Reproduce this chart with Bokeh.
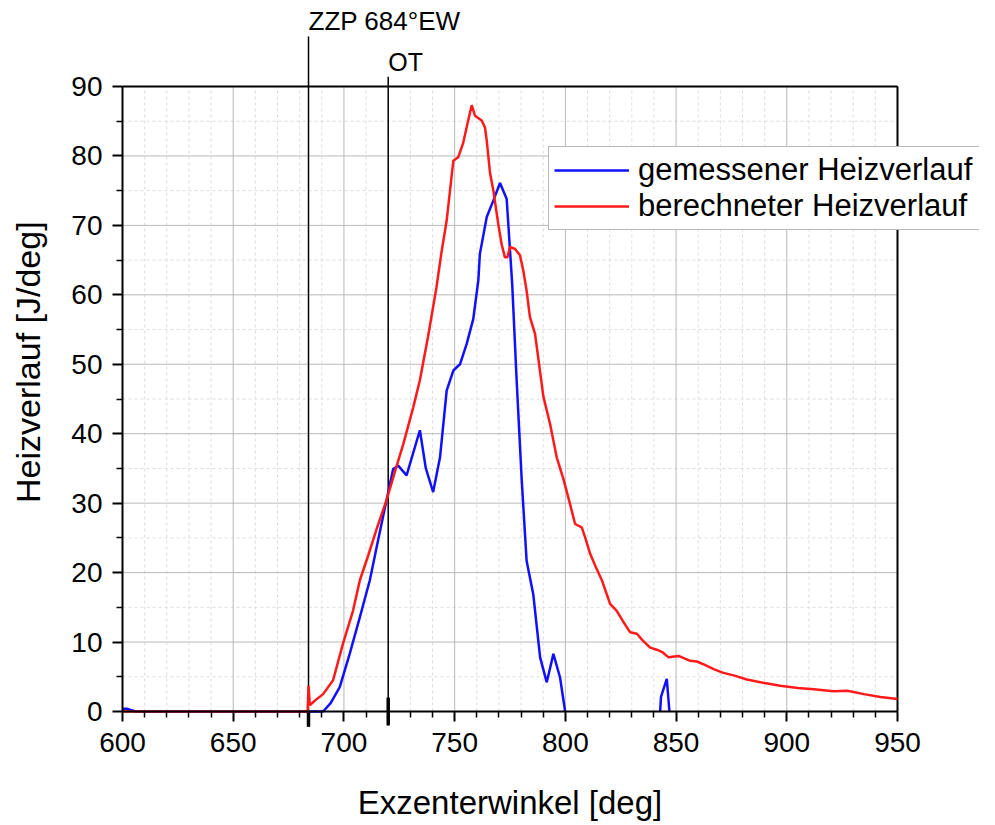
import math
import numpy as np
from bokeh.plotting import figure
from bokeh.models import Range1d, FixedTicker, Legend, LegendItem, Label
from bokeh.embed import file_html
from bokeh.resources import INLINE

NAN = float("nan")

# ---- data -------------------------------------------------------------
X_MIN, X_MAX = 600, 950
Y_MIN, Y_MAX = 0, 90
x_ticks = [600, 650, 700, 750, 800, 850, 900, 950]
x_minor = [610, 620, 630, 640, 660, 670, 680, 690, 710, 720, 730, 740, 760, 770, 780, 790,
           810, 820, 830, 840, 860, 870, 880, 890, 910, 920, 930, 940]
y_ticks = [0, 10, 20, 30, 40, 50, 60, 70, 80, 90]
y_minor = [5, 15, 25, 35, 45, 55, 65, 75, 85]

ZZP = 684   # Zündzeitpunkt [°EW]
OT = 720    # oberer Totpunkt

# gemessener Heizverlauf (blue)
meas_x = [600, 602, 604, 606, 650, 690.6, 694, 698.1, 702.6, 707.2, 711.7, 715, 719.2, 722.2,
          724.5, 728.3, 734.3, 737, 740.3, 743.4, 746.4, 749.4, 752.4, 755.4, 758.4, 760.7,
          761.4, 764.5, 767.5, 770.5, 773.5, 776, 778, 780.3, 782.5, 785.5, 788.6, 791.6,
          794.6, 797.6, 799.9, NAN, 842.8, 843.2, 845.8, 847]
meas_y = [0.4, 0.4, 0.2, 0, 0, 0, 1.2, 3.5, 8.3, 13.6, 18.9, 24.0, 30.4, 34.9,
          35.4, 34.0, 40.5, 35.0, 31.6, 36.6, 46.2, 49.1, 50.0, 52.9, 56.5, 62.1,
          65.9, 71.2, 73.6, 76.1, 73.8, 61.5, 47.7, 33.3, 21.7, 16.9, 7.8, 4.2,
          8.3, 4.9, 0, NAN, 0, 2.1, 4.7, 0]

# berechneter Heizverlauf (red)
calc_x = [600, 683.6, 684, 684.6, 687, 690.6, 695.1, 699.6, 704.1, 707.2, 711, 715, 719.2, 723,
          726.8, 731.3, 734.3, 738, 741.8, 744, 746.4, 749.4, 751.6, 753.8, 755.4, 757.7,
          759.2, 762.2, 763.7, 764.5, 766, 767.5, 769.7, 771.2, 772.7, 773.8, 775, 777.3,
          779.5, 781, 782.5, 784, 786.3, 790.1, 793.1, 796.1, 799.1, 802, 804.4, 807.4,
          809, 811.2, 813.5, 816.5, 820.2, 823.2, 826, 829.3, 832.3, 835, 838.3, 841.3,
          844, 846.6, 851.1, 856.4, 859.4, 863, 867, 871, 876, 882, 890, 897, 905, 912.2,
          921.2, 927.3, 934.8, 942.3, 950]
calc_y = [0, 0, 3.7, 0.9, 1.6, 2.5, 4.5, 9.8, 14.5, 18.9, 22.5, 26.5, 30.4, 34.5,
          38.5, 43.8, 47.7, 54.0, 61.1, 66.0, 70.7, 79.3, 79.8, 81.8, 84.1, 87.3,
          85.8, 85.1, 84.1, 82.2, 77.5, 75.0, 70.2, 67.3, 65.4, 65.4, 66.9, 66.6,
          65.7, 63.5, 60.6, 56.8, 54.4, 45.3, 41.4, 36.6, 33.5, 30.0, 27.0, 26.5,
          25.0, 22.7, 21.0, 18.9, 15.5, 14.5, 13.0, 11.4, 11.2, 10.2, 9.2, 8.9,
          8.5, 7.8, 8.0, 7.3, 7.2, 6.7, 6.1, 5.6, 5.2, 4.6, 4.1, 3.7, 3.4, 3.2,
          2.9, 3.0, 2.5, 2.1, 1.8]

FONT = "Liberation Sans"
BLUE = "#1010ff"
RED = "#ff1a1a"

# ---- layout: the frame fills the whole canvas so that markers, labels,
# axes and the legend may reach outside the axis box, as in the original --
PX_X = 775 / (X_MAX - X_MIN)     # pixels per degree
PX_Y = 625 / (Y_MAX - Y_MIN)     # pixels per J/deg
LEFT_PX = 122                    # canvas px left of the box
FW, FH = 979, 825
X_LO = X_MIN - LEFT_PX / PX_X
X_HI = X_LO + FW / PX_X
TOP_V = Y_MAX + 86 / PX_Y
BOT_V = TOP_V - FH / PX_Y

p = figure(frame_width=FW, frame_height=FH, output_backend="svg", toolbar_location=None,
           x_range=Range1d(X_LO, X_HI), y_range=Range1d(BOT_V, TOP_V), title=None,
           min_border_left=0, min_border_right=0, min_border_top=0, min_border_bottom=0)

p.outline_line_color = None
p.grid.visible = False

# grid (bounded to the axis box)
p.segment(x0=x_minor, y0=[Y_MIN] * len(x_minor), x1=x_minor, y1=[Y_MAX] * len(x_minor),
          line_color="#dcdcdc", line_dash="3 3", line_width=1)
p.segment(x0=[X_MIN] * len(y_minor), y0=y_minor, x1=[X_MAX] * len(y_minor), y1=y_minor,
          line_color="#dcdcdc", line_dash="3 3", line_width=1)
p.segment(x0=x_ticks, y0=[Y_MIN] * len(x_ticks), x1=x_ticks, y1=[Y_MAX] * len(x_ticks),
          line_color="#b9b9b9", line_width=1)
p.segment(x0=[X_MIN] * len(y_ticks), y0=y_ticks, x1=[X_MAX] * len(y_ticks), y1=y_ticks,
          line_color="#b9b9b9", line_width=1)
# top and right edge of the box
p.segment(x0=[X_MIN, X_MAX], y0=[Y_MAX, Y_MIN], x1=[X_MAX, X_MAX], y1=[Y_MAX, Y_MAX],
          line_color="black", line_width=2)

p.xaxis.ticker = FixedTicker(ticks=x_ticks, minor_ticks=x_minor)
p.yaxis.ticker = FixedTicker(ticks=y_ticks, minor_ticks=y_minor)
p.xaxis.fixed_location = Y_MIN
p.yaxis.fixed_location = X_MIN
p.xaxis.bounds = (X_MIN, X_MAX)
p.yaxis.bounds = (Y_MIN, Y_MAX)

for ax in (p.xaxis, p.yaxis):
    ax.axis_line_color = "black"
    ax.axis_line_width = 2
    ax.major_tick_line_color = "black"
    ax.major_tick_line_width = 2
    ax.minor_tick_line_color = "black"
    ax.minor_tick_line_width = 1.5
    ax.major_tick_in = 0
    ax.major_tick_out = 10
    ax.minor_tick_in = 0
    ax.minor_tick_out = 6
    ax.major_label_text_font = FONT
    ax.major_label_text_font_size = "28px"
    ax.major_label_text_color = "black"
    ax.axis_label_text_font = FONT
    ax.axis_label_text_font_size = "33px"
    ax.axis_label_text_font_style = "normal"
    ax.axis_label_text_color = "black"

p.xaxis.axis_label = "Exzenterwinkel [deg]"
p.xaxis.major_label_standoff = 11
p.xaxis.axis_label_standoff = 29
p.yaxis.major_label_standoff = 10

# y-axis title, placed like in the original (above the box centre)
p.add_layout(Label(x=X_MIN - 95 / PX_X, y=50.3, text="Heizverlauf [J/deg]", angle=math.pi / 2,
                   text_font=FONT, text_font_size="34px", text_color="black",
                   text_align="center", text_baseline="middle"))

# ZZP and OT markers
p.segment(x0=[ZZP, OT], y0=[-2.2, -2.0], x1=[ZZP, OT], y1=[97.2, 91.4],
          line_color="black", line_width=1.5)
p.segment(x0=[ZZP, OT], y0=[-2.2, -2.0], x1=[ZZP, OT], y1=[0, 2.0],
          line_color="black", line_width=3.5)

r_meas = p.line(np.array(meas_x), np.array(meas_y), line_color=BLUE, line_width=2.5)
r_calc = p.line(np.array(calc_x), np.array(calc_y), line_color=RED, line_width=2.5)

p.add_layout(Label(x=ZZP, y=99.5, text=f"ZZP {ZZP}°EW", text_font=FONT, text_font_size="26px",
                   text_color="black", text_baseline="alphabetic", text_align="left"))
p.add_layout(Label(x=OT, y=93.6, text="OT", text_font=FONT, text_font_size="25px",
                   text_color="black", text_baseline="alphabetic", text_align="left"))

legend = Legend(items=[LegendItem(label="gemessener Heizverlauf", renderers=[r_meas]),
                       LegendItem(label="berechneter Heizverlauf", renderers=[r_calc])],
                location=(LEFT_PX + 426, int(round((Y_MIN - BOT_V) * PX_Y)) + 481),
                padding=5, spacing=0, margin=0,
                glyph_width=75, label_standoff=9, label_width=420,
                label_text_font=FONT, label_text_font_size="31px", label_text_color="black",
                border_line_color="#707070", border_line_width=1.5,
                background_fill_color="white", background_fill_alpha=1.0)
p.add_layout(legend)

open("out.html", "w").write(file_html(p, INLINE))
